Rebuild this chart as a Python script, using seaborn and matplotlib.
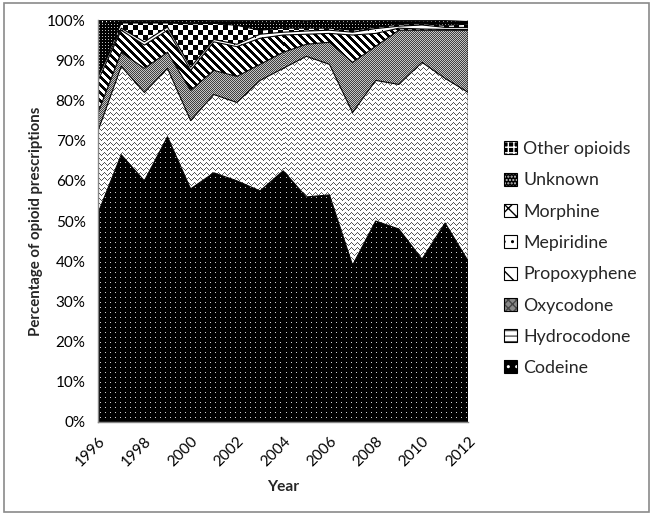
import numpy as np
import pandas as pd
import matplotlib
matplotlib.use("Agg")
import matplotlib.pyplot as plt
import seaborn as sns
from matplotlib.patches import Patch, Rectangle
from matplotlib.legend_handler import HandlerTuple
from matplotlib.ticker import MultipleLocator, FuncFormatter

# ---------------- data (percent of opioid prescriptions) ----------------
years = list(range(1996, 2013))
categories = ["Codeine", "Hydrocodone", "Oxycodone", "Propoxyphene",
              "Mepiridine", "Morphine", "Unknown", "Other opioids"]
codeine = [52, 66.5, 60, 71, 58, 62, 60, 57.5, 62.5, 56, 56.5, 39, 50, 48, 40.5, 49.5, 40]
hydrocodone = [20.5, 22, 22, 17, 17, 19.5, 19.5, 27.5, 25.5, 35, 32.5, 38, 35, 36, 49, 36, 42]
oxycodone = [4.5, 3.5, 6, 4, 7.5, 6, 6.5, 4, 4, 3, 5.5, 12.5, 8.5, 13.5, 8, 12, 15.5]
propoxyphene = [8, 5.5, 5.8, 5.5, 5, 7.1, 7.4, 6.5, 4.3, 2.5, 2.2, 6.8, 3.2, 0.5, 0.3, 0.2, 0.2]
mepiridine = [1, 0.5, 0.8, 0.8, 0.8, 0.6, 0.6, 1, 0.7, 0.8, 0.8, 0.7, 1.2, 0.5, 1, 0.5, 0.5]
morphine = [0, 1.3, 4.7, 1, 10.8, 4, 4.7, 1, 1, 0.7, 0.5, 0.5, 0.3, 0.5, 0.3, 0.5, 0.8]
unknown = [13.2, 0.3, 0.3, 0.3, 0.4, 0.4, 0.9, 2.0, 1.5, 1.3, 1.5, 2.0, 1.3, 0.6, 0.5, 0.8, 0.7]
other_opioids = [0.8, 0.4, 0.4, 0.4, 0.4, 0.4, 0.4, 0.5, 0.5, 0.5, 0.5, 0.5, 0.5, 0.4, 0.4, 0.5, 0.5]
y_ticks = list(range(0, 101, 10))
x_ticks = list(range(1996, 2013, 2))

series = [codeine, hydrocodone, oxycodone, propoxyphene, mepiridine,
          morphine, unknown, other_opioids]
df = pd.DataFrame({c: s for c, s in zip(categories, series)}, index=years)
cum = df.cumsum(axis=1)

# ---------------- style ----------------
sns.set_style("white")
plt.rcParams["font.family"] = ["Lato", "DejaVu Sans"]

fig = plt.figure(figsize=(6.54, 5.17), dpi=100)
ax = fig.add_axes([0.150, 0.184, 0.566, 0.777])
W = int(round(0.566 * 654))
H = int(round(0.777 * 517))
yy, xx = np.mgrid[0:H, 0:W]


def rgb(mask, on, off):
    on = np.array(matplotlib.colors.to_rgb(on))
    off = np.array(matplotlib.colors.to_rgb(off))
    return np.where(mask[..., None], on, off)


tri = np.abs((xx % 6) - 3)
textures = {
    "Codeine": rgb(((xx % 5) == 2) & ((yy % 5) == 2), "#d0d0d0", "black"),
    "Hydrocodone": rgb(((yy + tri) % 5) == 0, "#555555", "white"),
    "Oxycodone": rgb(((xx + yy) % 2) == 0, "#404040", "#c4c4c4"),
    "Propoxyphene": rgb(((xx - yy) % 8) < 4, "black", "white"),
    "Mepiridine": rgb(((xx % 7) == 3) & ((yy % 7) == 3), "black", "white"),
    "Morphine": rgb(((xx // 5 + yy // 5) % 2) == 0, "black", "white"),
    "Unknown": rgb(((xx % 3) == 1) & ((yy % 3) == 1), "#bbbbbb", "black"),
    "Other opioids": rgb(((xx % 4) == 0) | ((yy % 4) == 0), "white", "black"),
}

lower = np.zeros(len(years))
for c in categories:
    upper = cum[c].values
    poly = ax.fill_between(years, lower, upper, facecolor="none",
                           edgecolor="none", lw=0, zorder=1)
    im = ax.imshow(textures[c], extent=[years[0], years[-1], 0, 100],
                   origin="upper", interpolation="nearest", aspect="auto",
                   zorder=1)
    im.set_clip_path(poly.get_paths()[0], transform=ax.transData)
    lower = upper

# boundaries between layers
for c in categories:
    sns.lineplot(x=years, y=cum[c].values, color="black", lw=0.8, ax=ax,
                 zorder=3, legend=False)
ax.fill_between(years, 0, cum[categories[-1]].values, facecolor="none",
                edgecolor="black", lw=0.8, zorder=3)

ax.set_xlim(years[0], years[-1])
ax.set_ylim(0, 100)

for s in ["top", "right"]:
    ax.spines[s].set_visible(False)
for s in ["left", "bottom"]:
    ax.spines[s].set_color("#868686")
    ax.spines[s].set_linewidth(1.0)
    ax.spines[s].set_zorder(4)

ax.set_yticks(y_ticks)
ax.yaxis.set_major_formatter(FuncFormatter(lambda v, p: f"{v:.0f}%"))
ax.set_xticks(x_ticks)
ax.xaxis.set_minor_locator(MultipleLocator(1))
ax.tick_params(axis="both", which="both", direction="out", length=5,
               color="#868686", width=1.0, labelsize=11, labelcolor="black")
ax.tick_params(axis="y", pad=4)
plt.setp(ax.get_xticklabels(), rotation=45, ha="right", rotation_mode="anchor")

ax.set_xlabel("Year", fontsize=11.2, fontweight="bold", labelpad=8)
ax.set_ylabel("Percentage of opioid prescriptions", fontsize=10.8,
              fontweight="bold", labelpad=3)

# legend
legend_style = {
    "Other opioids": dict(fc="black", ec="white", hatch="+++"),
    "Unknown": dict(fc="black", ec="#cccccc", hatch="....."),
    "Morphine": dict(fc="white", ec="black", hatch="xx"),
    "Mepiridine": dict(fc="white", ec="black", hatch=".."),
    "Propoxyphene": dict(fc="white", ec="black", hatch="\\\\"),
    "Oxycodone": dict(fc="#888888", ec="#444444", hatch="xxxx"),
    "Hydrocodone": dict(fc="white", ec="#555555", hatch="---"),
    "Codeine": dict(fc="black", ec="white", hatch=".."),
}
handles, labels = [], []
for c in reversed(categories):
    st = legend_style[c]
    h1 = Patch(facecolor=st["fc"], edgecolor=st["ec"], hatch=st["hatch"], lw=0)
    h2 = Patch(facecolor="none", edgecolor="black", lw=0.8)
    handles.append((h1, h2))
    labels.append(c)
fig.legend(handles, labels, loc="upper left", bbox_to_anchor=(0.770, 0.727),
           frameon=False, fontsize=12.8, handlelength=0.75, handleheight=0.75,
           handletextpad=0.35, labelspacing=0.86, borderpad=0, borderaxespad=0,
           handler_map={tuple: HandlerTuple(ndivide=1, pad=0)})

# figure border
fig.patches.append(Rectangle((0.006, 0.010), 0.987, 0.985,
                             transform=fig.transFigure, fill=False,
                             edgecolor="#8a8a8a", lw=1.2))

fig.savefig("out.png", dpi=100)
